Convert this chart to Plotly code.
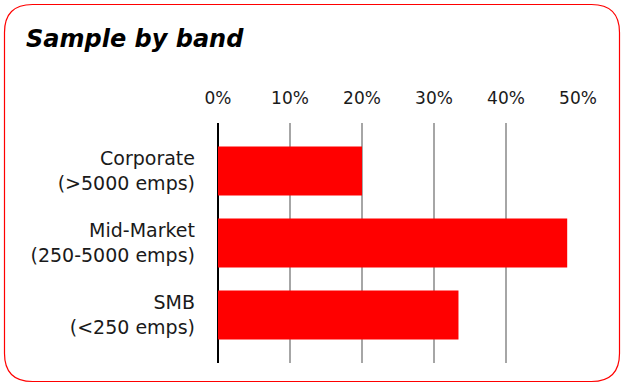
import plotly.graph_objects as go

# Survey sample share by company size band
bands = ["Corporate<br>(>5000 emps)", "Mid-Market<br>(250-5000 emps)", "SMB<br>(<250 emps)"]
shares = [0.200, 0.485, 0.334]
tick_vals = [0, 0.1, 0.2, 0.3, 0.4, 0.5]
tick_text = ["0%", "10%", "20%", "30%", "40%", "50%"]

W, H = 624, 385
ML, MR, MT, MB = 218, 46, 123, 22
PW, PH = W - ML - MR, H - MT - MB

FONT = "DejaVu Sans"

fig = go.Figure(
    go.Bar(
        x=shares,
        y=bands,
        orientation="h",
        marker=dict(color="#ff0000", line=dict(width=0)),
        width=0.68,
        hoverinfo="skip",
    )
)


def px_to_paper(px, py):
    return (px - ML) / PW, (H - MB - py) / PH


# rounded frame around the whole card
x0, y0, x1, y1, r = 4.5, 4.5, 619.5, 381.5, 28
pts = [
    ("M", x0 + r, y0),
    ("L", x1 - r, y0),
    ("Q", x1, y0, x1, y0 + r),
    ("L", x1, y1 - r),
    ("Q", x1, y1, x1 - r, y1),
    ("L", x0 + r, y1),
    ("Q", x0, y1, x0, y1 - r),
    ("L", x0, y0 + r),
    ("Q", x0, y0, x0 + r, y0),
]
path = ""
for p in pts:
    cmd, coords = p[0], p[1:]
    conv = []
    for i in range(0, len(coords), 2):
        a, b = px_to_paper(coords[i], coords[i + 1])
        conv.append(f"{a:.5f},{b:.5f}")
    path += cmd + " ".join(conv) + " "
path += "Z"

fig.add_shape(
    type="path",
    path=path,
    xref="paper",
    yref="paper",
    line=dict(color="#ff0000", width=1.2),
    fillcolor="rgba(0,0,0,0)",
    layer="below",
)

tx, ty = px_to_paper(24, 39)
fig.add_annotation(
    text="<b><i>Sample by band</i></b>",
    x=tx,
    y=ty,
    xref="paper",
    yref="paper",
    xanchor="left",
    yanchor="middle",
    showarrow=False,
    font=dict(family=FONT, size=24, color="#000000"),
)

fig.update_layout(
    width=W,
    height=H,
    margin=dict(l=ML, r=MR, t=MT, b=MB, pad=0),
    paper_bgcolor="white",
    plot_bgcolor="white",
    showlegend=False,
    font=dict(family=FONT, color="#1a1a1a"),
    bargap=0.32,
)

fig.update_xaxes(
    side="top",
    range=[0, 0.5],
    tickvals=tick_vals,
    ticktext=tick_text,
    tickfont=dict(size=17, color="#1a1a1a"),
    showgrid=True,
    gridcolor="#a6a6a6",
    gridwidth=1.6,
    zeroline=True,
    zerolinecolor="#000000",
    zerolinewidth=2,
    showline=False,
    ticks="",
    ticklabelstandoff=15,
    fixedrange=True,
)

fig.update_yaxes(
    range=[2.0 + 0.5 + 1 / 6, -0.5 - 1 / 6],
    tickfont=dict(size=19, color="#1a1a1a"),
    showgrid=False,
    zeroline=False,
    showline=False,
    ticks="",
    ticklabelstandoff=22,
    fixedrange=True,
)

fig.write_html("out.html")
